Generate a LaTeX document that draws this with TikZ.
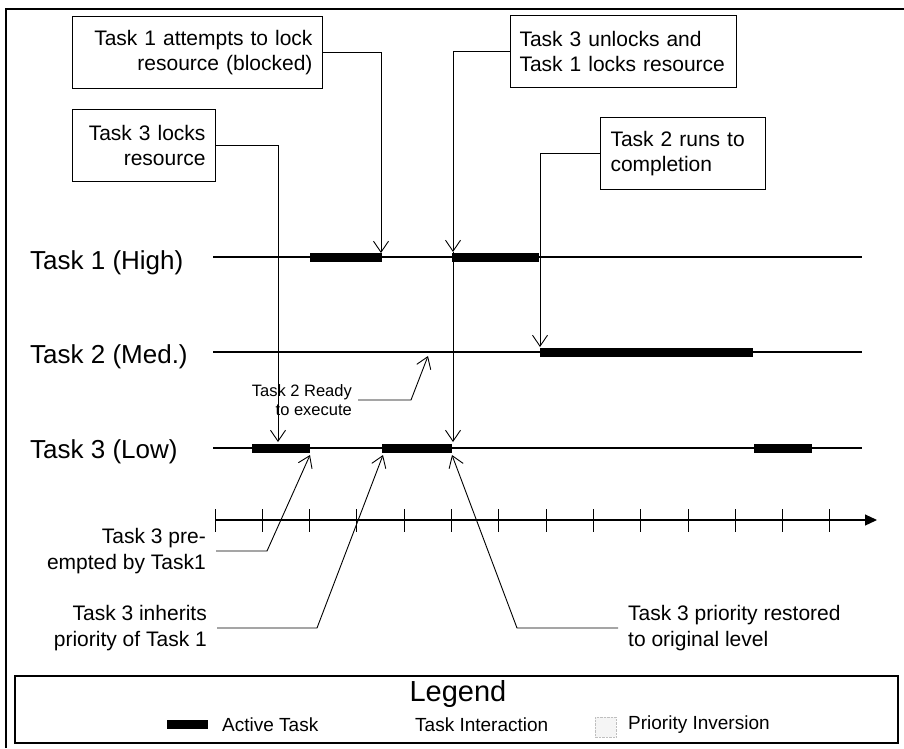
\documentclass[tikz,border=0pt]{standalone}
\usepackage{fontspec}
\setmainfont{Liberation Sans}
\usetikzlibrary{arrows.meta}

\begin{document}
\begin{tikzpicture}[x=1pt,y=-1pt,>={Straight Barb[length=11pt,width=15pt]},
  note/.style={draw,line width=1pt,minimum height=72pt,inner xsep=10pt,font=\fontsize{21}{24.3}\selectfont},
  lbl/.style={inner xsep=10pt,inner ysep=0pt,font=\fontsize{21}{26}\selectfont},
  tasklbl/.style={inner sep=0pt,anchor=base west,font=\fontsize{26}{28}\selectfont},
  keylbl/.style={anchor=west,inner sep=0pt,font=\fontsize{19}{21}\selectfont},
  timeline/.style={line width=2pt},
  active/.style={line width=9pt},
  link/.style={line width=0.9pt,->}]
\useasboundingbox (0,0) rectangle (904,748);
% frame
\draw[line width=1.5pt] (6,748) -- (6,9) -- (904,9);

% callouts
\node[note,anchor=north west,text width=230pt,align=right] (attempt) at (72,16) {Task 1 attempts to lock\\resource (blocked)};
\node[note,anchor=north west,text width=123pt,align=right] (lockres) at (72,109) {Task 3 locks\\resource};
\node[note,anchor=north west,text width=208pt,inner xsep=9pt,align=left] (unlock) at (510,15) {Task 3 unlocks and\\Task 1 locks resource};
\node[note,anchor=north west,text width=145pt,align=left] (runs) at (600,117) {Task 2 runs to\\completion};

% tasks
\node[tasklbl] (high) at (30,269) {Task 1 (High)};
\node[tasklbl] (med) at (30,363) {Task 2 (Med.)};
\node[tasklbl] (low) at (30,458) {Task 3 (Low)};
\draw[timeline] (213,257) -- (862,257);
\draw[timeline] (213,352) -- (862,352);
\draw[timeline] (213,448) -- (862,448);

% active parts
\draw[active] (310,257) -- (382,257);
\draw[active] (452,257) -- (539,257);
\draw[active] (540,352) -- (753,352);
\draw[active] (252,448) -- (310,448);
\draw[active] (382,448) -- (452,448);
\draw[active] (754,448) -- (812,448);

% arrow ends
\coordinate (t1block) at (381,253);
\coordinate (t3lock) at (278,442);
\coordinate (t1lock) at (453,252);
\coordinate (t3unlock) at (453,442);
\coordinate (t2run) at (540,347);
\coordinate (t2ready) at (428,356);
\coordinate (t3pre) at (310,455);
\coordinate (t3inh) at (383,455);
\coordinate (t3rest) at (452,455);

\draw[link] (attempt.east) -| (t1block);
\draw[link] (lockres.east) -| (t3lock);
\draw[link] (unlock.west) -| (t1lock);
\draw[link] (t1lock) -- (t3unlock);
\draw[link] (runs.west) -| (t2run);

\node[inner xsep=6pt,inner ysep=0pt,anchor=east,align=right,font=\fontsize{16.5}{19}\selectfont] (ready) at (358,400) {Task 2 Ready\\to execute};
\draw[link] (ready.east) -- ++(53,0) -- (t2ready);

% time axis
\draw[line width=1.2pt,-{Triangle[length=12pt,width=11pt]}] (215,520) -- (877,520);
\foreach \i in {0,...,13}{
    \draw[line width=1pt] (215+47.3*\i,509) -- ++(0,23);
}

\node[lbl,anchor=east,align=right] (preempt) at (216,551) {Task 3 pre-\\empted by Task1};
\node[lbl,anchor=east,align=right] (inherit) at (217,628) {Task 3 inherits\\priority of Task 1};
\node[lbl,anchor=west,align=left] (restore) at (618,628) {Task 3 priority restored\\to original level};
\draw[link] (preempt.east) -- ++(51,0) -- (t3pre);
\draw[link] (inherit.east) -- ++(100,0) -- (t3inh);
\draw[link] (restore.west) -- ++(-101,0) -- (t3rest);

% legend
\draw[line width=1.5pt] (15,676) rectangle (898,743);
\node[font=\fontsize{29}{31}\selectfont,inner sep=0pt] (legend) at (458,694) {Legend};
\fill (167,720) rectangle (208,729);
\node[keylbl] (activekey) at (222,725) {Active Task};
\node[keylbl] (interkey) at (415,725) {Task Interaction};
\draw[densely dotted,gray!50,fill=gray!8] (595,717) rectangle (616,737);
\node[keylbl] (invkey) at (628,725) {Priority Inversion};
\end{tikzpicture}
\end{document}
